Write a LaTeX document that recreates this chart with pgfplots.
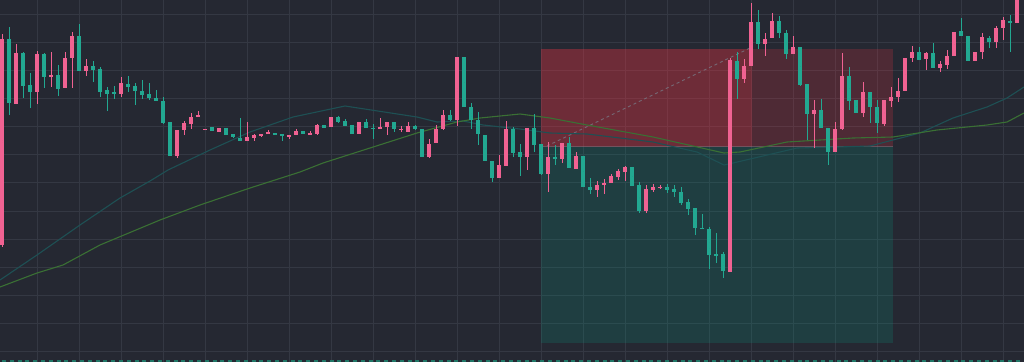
\documentclass[border=0pt]{standalone}
\usepackage{pgfplots}
\pgfplotsset{compat=1.18}
\usepackage{pgfplotstable}
\definecolor{bg}{RGB}{37,40,50}
\definecolor{gridc}{RGB}{52,56,67}
\definecolor{pinkc}{RGB}{240,98,146}
\definecolor{tealc}{RGB}{34,168,145}
\definecolor{maTeal}{RGB}{30,80,84}
\definecolor{maGreen}{RGB}{58,112,52}
\definecolor{redbox}{RGB}{242,54,69}
\definecolor{greenbox}{RGB}{8,153,129}
\definecolor{dashc}{RGB}{120,120,132}
\definecolor{botc}{RGB}{32,118,102}

% candles: index, body top, body bottom, wick top, wick bottom (pixel rows, downward), p=1 pink / 0 teal
\pgfplotstableread{
i top bot hi lo p
0 39 245 34 247 1
1 39 103 27 115 0
2 53 104 44 104 1
3 53 86 52 98 0
4 85 92 73 108 0
5 54 92 51 104 1
6 54 77 53 88 0
7 75 77 52 87 1
8 75 89 65 96 0
9 58 88 52 88 1
10 36 58 32 88 1
11 36 71 24 71 0
12 66 71 59 76 1
13 66 70 61 82 0
14 69 92 67 97 0
15 90 94 87 111 0
16 92 94 86 99 0
17 83 94 77 97 1
18 84 87 76 92 0
19 86 91 83 105 0
20 91 95 80 99 0
21 94 98 83 100 0
22 98 101 90 101 0
23 101 123 97 124 0
24 122 156 122 156 0
25 130 156 130 158 1
26 123 130 121 135 1
27 117 124 113 129 1
28 115 117 111 117 1
29 128.5 129.5 128.5 129.5 1
30 127 131 127 131 0
31 128 132 128 132 1
32 128 135 128 135 0
33 134 137 134 138 0
34 138 141 118 141 0
35 137 141 122 141 1
36 135 138 134 141 1
37 134 136 134 137 1
38 132 134 130 134 1
39 133 135 133 135 0
40 134 135 134 141 0
41 135 137 135 139 1
42 131 135 129 135 1
43 131 134 131 134 0
44 133 134 131 135 1
45 125 134 124 135 1
46 125 128 125 128 0
47 117 127 117 127 1
48 117 122 116 123 0
49 121 126 119 126 0
50 125 134 125 134 0
51 122 134 122 134 1
52 122 128 119 128 0
53 127.5 128.5 124 139 0
54 127 129 118 129 1
55 122 127 122 135 1
56 122 129 122 132 0
57 128.5 129.5 126 132 1
58 126 132 122 132 1
59 126 129 125 130 0
60 129 157 129 157 0
61 144 157 139 158 1
62 129 143 125 143 1
63 115 129 110 130 1
64 115 120 110 121 0
65 57 120 57 126 1
66 57 107 57 107 0
67 107 120 103 129 0
68 120 134 112 145 0
69 135 161 135 161 0
70 161 178 161 182 0
71 165 178 155 178 1
72 129 166 121 166 1
73 129 153 127 157 0
74 152 157 144 176 0
75 128 157 128 170 1
76 128 145 114 152 0
77 144 174 144 175 0
78 157 174 142 192 1
79 157 159 145 165 0
80 143 159 143 163 1
81 143 168 137 168 0
82 156 169 152 169 1
83 156 187 156 187 0
84 187 190 178 194 0
85 185 190 181 197 1
86 183 185 179 194 1
87 176 183 174 183 1
88 171 177 169 180 1
89 167 172 166 181 1
90 167 186 167 186 0
91 185 211 182 213 0
92 189 211 185 213 1
93 187 190 184 192 1
94 186.5 187.5 185 189 1
95 187 190 184 193 0
96 189 192 185 197 0
97 192 203 187 205 0
98 202 209 199 215 0
99 208 228 208 235 0
100 227.5 228.5 214 228 0
101 229 255 227 269 0
102 254 255 233 263 0
103 254 271 252 278 0
104 60 272 58 272 1
105 61 79 52 99 0
106 66 79 59 83 1
107 22 66 3 66 1
108 22 44 10 49 0
109 39 44 33 56 1
110 21 38 13 38 1
111 21 33 16 38 0
112 33 54 30 59 0
113 47 54 36 54 1
114 47 85 47 86 0
115 84 114 84 140 0
116 110 114 100 148 1
117 110 128 99 128 0
118 128 152 128 165 0
119 129 152 122 152 1
120 76 129 53 130 1
121 76 101 67 110 0
122 100 113 100 113 0
123 92 113 82 117 1
124 92 107 92 123 0
125 107 123 100 133 0
126 100 124 100 126 1
127 97 101 87 107 1
128 91 97 78 102 1
129 58 91 58 91 1
130 52 58 46 62 1
131 52 60 47 60 0
132 53 59 52 70 1
133 53 68 43 68 0
134 64 68 61 72 1
135 56 65 50 69 1
136 32 56 32 56 1
137 31 36 18 36 0
138 36 61 36 61 0
139 52 61 52 61 1
140 37 52 33 59 1
141 38 42 36 48 0
142 28 42 26 48 1
143 20 28 17 40 1
144 21 23 15 52 0
145 0 23 -5 23 1
}\candles

\pgfplotstableread{
x y
0 280
37 255
80 225
120 198
150 181
168 170
210 150
250 132
293 117
345 106
417 117
437 122
463 121
483 125
520 129
550 133
587 134
653 142
697 152
724 165
733 163
763 156
797 148
837 147
870 146
893 140
920 133
953 118
987 107
1007 98
1024 87
}\maA

\pgfplotstableread{
x y
0 287
37 273
63 265
100 245
160 220
200 205
250 188
300 172
323 163
417 133
457 122
480 118
520 114
550 118
587 125
653 137
724 153
740 152
787 142
853 138
893 137
937 130
987 125
1007 122
1024 113
}\maB

\pgfplotsset{
  candle/.style={only marks, mark=*, mark size=0pt,
    mark options={draw=none, fill=none},
    error bars/.cd, y dir=both, y explicit, error mark=none,
    error bar style={#1}},
}

\begin{document}
\begin{tikzpicture}
\begin{axis}[
  scale only axis, width=1024pt, height=362pt,
  xmin=0, xmax=1024, ymin=0, ymax=362, y dir=reverse,
  axis background/.style={fill=bg},
  axis line style={draw=none},
  xtick={37,79,...,1003},
  ytick={14,42.15,70.3,98.45,126.6,154.75,182.9,211.05,239.2,267.35,295.5,323.65,351.8},
  grid=major, major grid style={draw=gridc, line width=1pt},
  tick style={draw=none},
  xticklabels={}, yticklabels={},
  clip=true,
]
\coordinate (sw) at (rel axis cs:0,0);
\coordinate (ne) at (rel axis cs:1,1);

% position tool boxes
\addplot[draw=none, fill=redbox, fill opacity=0.2] coordinates {(541,49) (892.5,49) (892.5,146.5) (541,146.5)} --cycle;
\addplot[draw=none, fill=redbox, fill opacity=0.2] coordinates {(541,49) (752,49) (752,146.5) (541,146.5)} --cycle;
\addplot[draw=none, fill=greenbox, fill opacity=0.2] coordinates {(541,146.5) (892.5,146.5) (892.5,343) (541,343)} --cycle;
\addplot[draw=dashc, opacity=0.5, line width=0.8pt] coordinates {(541,146.5) (892.5,146.5)};
\addplot[draw=dashc, dash pattern=on 3pt off 3pt, line width=0.9pt, opacity=0.8] coordinates {(547,146) (750,48)};

% moving averages
\addplot[maTeal, line width=1.1pt, mark=none] table[x=x,y=y]{\maA};
\addplot[maGreen, line width=1.1pt, mark=none] table[x=x,y=y]{\maB};

% wicks
\addplot[restrict expr to domain={\thisrow{p}}{0.5:1.5}, candle={line width=1pt, draw=pinkc}]
  table[x expr=2+7*\thisrow{i}, y expr=(\thisrow{hi}+\thisrow{lo})/2, y error expr=(\thisrow{lo}-\thisrow{hi})/2]{\candles};
\addplot[restrict expr to domain={\thisrow{p}}{-0.5:0.5}, candle={line width=1pt, draw=tealc}]
  table[x expr=2+7*\thisrow{i}, y expr=(\thisrow{hi}+\thisrow{lo})/2, y error expr=(\thisrow{lo}-\thisrow{hi})/2]{\candles};
% bodies
\addplot[restrict expr to domain={\thisrow{p}}{0.5:1.5}, candle={line width=4.8pt, draw=pinkc}]
  table[x expr=2+7*\thisrow{i}, y expr=(\thisrow{top}+\thisrow{bot})/2, y error expr=(\thisrow{bot}-\thisrow{top})/2]{\candles};
\addplot[restrict expr to domain={\thisrow{p}}{-0.5:0.5}, candle={line width=4.8pt, draw=tealc}]
  table[x expr=2+7*\thisrow{i}, y expr=(\thisrow{top}+\thisrow{bot})/2, y error expr=(\thisrow{bot}-\thisrow{top})/2]{\candles};

% bottom dashed line
\addplot[botc, line width=2pt, dash pattern=on 4pt off 3.8pt] coordinates {(2,361) (1024,361)};
\end{axis}
\pgfresetboundingbox
\useasboundingbox (sw) rectangle (ne);
\end{tikzpicture}
\end{document}
